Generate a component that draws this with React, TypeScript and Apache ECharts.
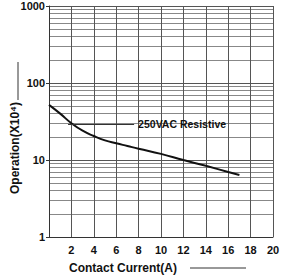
import React, { useEffect, useRef } from "react";
import * as echarts from "echarts";

const currents = [0, 1, 2, 3, 4, 5, 6, 7, 8, 10, 12, 14, 16, 17];
const operations = [52, 40, 30, 24, 20.5, 18, 16.5, 15.2, 14, 12, 10, 8.4, 7, 6.4];
const seriesLabel = "250VAC Resistive";
const leaderStart = [1.7, 29.5];
const leaderEnd = [7.6, 29.5];
const xName = "Contact Current(A)";
const yName = "Operation(X10⁴)";

const FONT = "'Liberation Sans', Arial, sans-serif";

export default function App() {
  const ref = useRef<HTMLDivElement>(null);
  useEffect(() => {
    document.body.style.margin = "0";
    if (!ref.current) return;
    const chart = echarts.init(ref.current, null, { renderer: "svg" });
    chart.setOption({
      animation: false,
      backgroundColor: "#ffffff",
      grid: { left: 49, right: 16, top: 6, bottom: 38, containLabel: false },
      xAxis: {
        type: "value",
        min: 0,
        max: 20,
        interval: 2,
        axisLine: { show: true, lineStyle: { color: "#333", width: 1 } },
        axisTick: { show: false },
        axisLabel: {
          color: "#111",
          fontFamily: FONT,
          fontWeight: "bold",
          fontSize: 11,
          margin: 7,
          formatter: (v: number) => (v === 0 ? "" : String(v)),
        },
        splitLine: { show: true, lineStyle: { color: "#555", width: 1 } },
      },
      yAxis: {
        type: "log",
        logBase: 10,
        min: 1,
        max: 1000,
        axisLine: { show: true, lineStyle: { color: "#333", width: 1 } },
        axisTick: { show: true, length: 3, lineStyle: { color: "#333" } },
        axisLabel: {
          color: "#111",
          fontFamily: FONT,
          fontWeight: "bold",
          fontSize: 11,
          margin: 4,
          formatter: (v: number) => String(v),
        },
        splitLine: { show: true, lineStyle: { color: "#555", width: 1 } },
        minorTick: { show: false, splitNumber: 9 },
        minorSplitLine: { show: true, lineStyle: { color: "#888", width: 1 } },
      },
      series: [
        {
          type: "line",
          data: currents.map((c, i) => [c, operations[i]]),
          smooth: true,
          symbol: "none",
          lineStyle: { color: "#111", width: 2 },
          markLine: {
            silent: true,
            symbol: "none",
            lineStyle: { color: "#333", width: 1, type: "solid" },
            label: {
              show: true,
              position: "end",
              distance: 4,
              formatter: seriesLabel,
              color: "#111",
              fontFamily: FONT,
              fontWeight: "bold",
              fontSize: 10.5,
            },
            data: [[{ coord: leaderStart }, { coord: leaderEnd }]],
          },
        },
      ],
      graphic: [
        {
          type: "text",
          x: 69,
          y: 268,
          style: {
            text: xName,
            fill: "#111",
            font: `bold 12px ${FONT}`,
            align: "left",
            verticalAlign: "middle",
            textAlign: "left",
            textVerticalAlign: "middle",
          },
        },
        {
          type: "line",
          shape: { x1: 190, y1: 268, x2: 246, y2: 268 },
          style: { stroke: "#333", lineWidth: 1 },
        },
        {
          type: "text",
          x: 15,
          y: 148,
          rotation: Math.PI / 2,
          style: {
            text: yName,
            fill: "#111",
            font: `bold 12px ${FONT}`,
            align: "center",
            verticalAlign: "middle",
            textAlign: "center",
            textVerticalAlign: "middle",
          },
        },
        {
          type: "line",
          shape: { x1: 18, y1: 62, x2: 18, y2: 100 },
          style: { stroke: "#333", lineWidth: 1 },
        },
      ],
    });
    return () => chart.dispose();
  }, []);
  return <div ref={ref} style={{ width: 289, height: 275 }} />;
}
